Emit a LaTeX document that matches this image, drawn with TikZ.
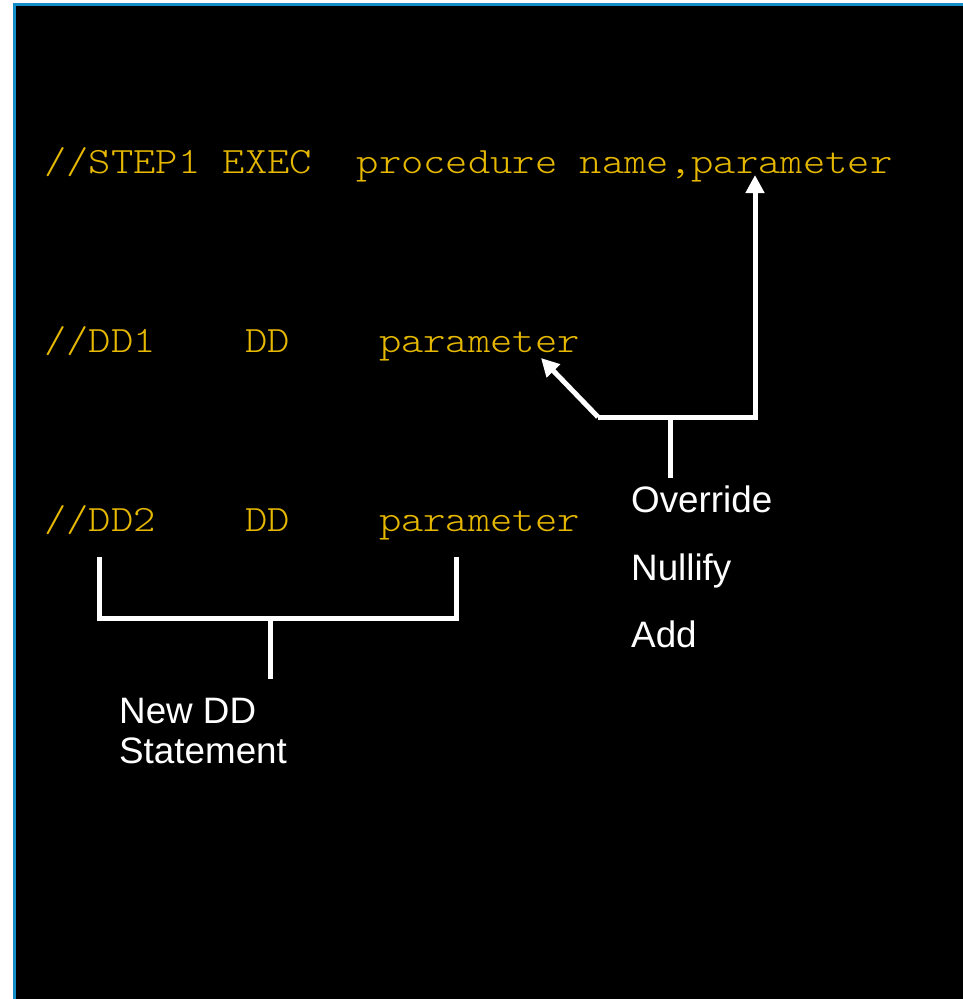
\documentclass[tikz,border=0pt]{standalone}
\usepackage{fontspec}
\setmainfont{Liberation Sans}
\setmonofont[FakeStretch=1.143]{Latin Modern Mono Light}
\usetikzlibrary{arrows.meta}
\definecolor{jclgold}{RGB}{230,184,0}
\definecolor{frameblue}{RGB}{20,142,200}
\tikzset{
  jcl/.style={anchor=base west, inner sep=0pt, text=jclgold,
    font=\ttfamily\fontsize{37.2}{40}\selectfont},
  note/.style={anchor=base west, inner sep=0pt, text=white,
    font=\fontsize{36.8}{40}\selectfont},
  wire/.style={draw=white, line width=5pt, line join=miter},
  pointer/.style={wire, -{Triangle[width=18pt,length=18pt]}}
}
\begin{document}
\begin{tikzpicture}[x=1pt,y=-1pt]
  % page and screen area
  \fill[white] (0,0) rectangle (963,999);
  \useasboundingbox (0,0) rectangle (963,999);
  \fill[black] (15,5) rectangle (963,999);
  \draw[frameblue, line width=2.4pt] (14.6,999) -- (14.6,4.6) -- (963,4.6);

  % JCL statements (character pitch 22.32)
  \node[jcl] (s1a) at (44,173) {//STEP1};
  \node[jcl] (s1b) at (222.6,173) {EXEC};
  \node[jcl] (s1c) at (356.5,173) {procedure};
  \node[jcl] (s1d) at (579.7,173) {name,parameter};

  \node[jcl] (d1a) at (44,352) {//DD1};
  \node[jcl] (d1b) at (244.9,352) {DD};
  \node[jcl] (d1c) at (378.8,352) {parameter};

  \node[jcl] (d2a) at (44,531) {//DD2};
  \node[jcl] (d2b) at (244.9,531) {DD};
  \node[jcl] (d2c) at (378.8,531) {parameter};

  % annotations
  \node[note] (ovr) at (631,512) {Override};
  \node[note] (nul) at (631,580) {Nullify};
  \node[note] (add) at (631,647) {Add};
  \node[note, align=left, anchor=north west] (newdd) at (119,698)
    {\fontsize{36.8}{39}\selectfont New DD\\Statement};

  % override pointers
  \coordinate (ovL) at (598,417);
  \coordinate (ovR) at (755,417);
  \coordinate (ovS) at (670,417);
  \coordinate (ovE) at (670,478);
  \coordinate (tipExec) at (755,175);
  \coordinate (tipDD1) at (541,358);
  \draw[pointer] (ovL) -- (ovR) -- (tipExec);
  \draw[pointer] (ovL) -- (tipDD1);
  \draw[wire] (ovS) -- (ovE);

  % new DD bracket
  \coordinate (brL) at (99,557);
  \coordinate (brR) at (456,557);
  \coordinate (brLb) at (99,618);
  \coordinate (brRb) at (456,618);
  \coordinate (brS) at (270,618);
  \coordinate (brE) at (270,679);
  \draw[wire] (brL) -- (brLb) -- (brRb) -- (brR);
  \draw[wire] (brS) -- (brE);
\end{tikzpicture}
\end{document}
